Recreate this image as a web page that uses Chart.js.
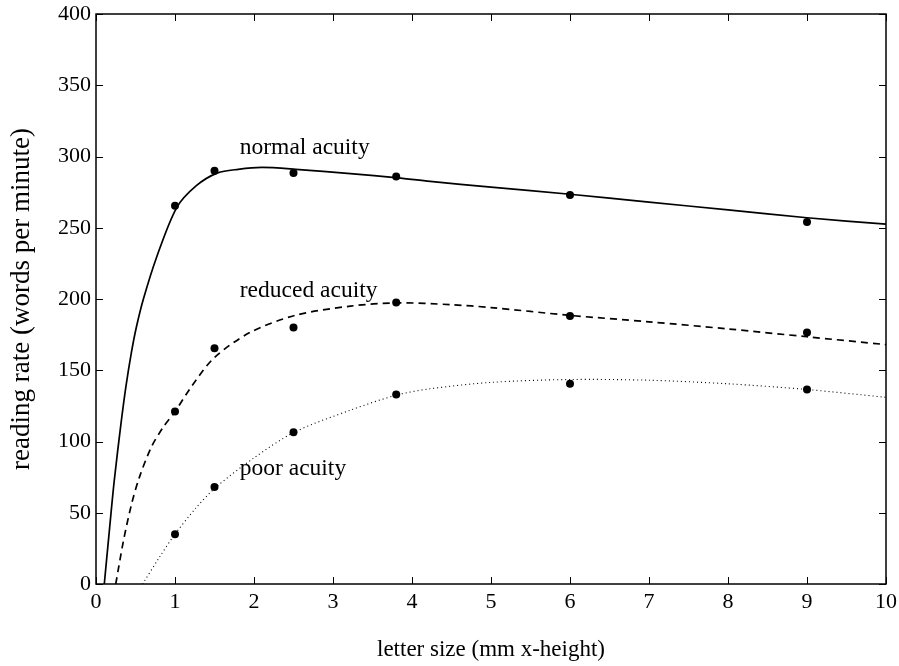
<!DOCTYPE html>
<html>
<head>
<meta charset="utf-8">
<script src="https://cdn.jsdelivr.net/npm/chart.js@4.4.1/dist/chart.umd.min.js"></script>
<style>
  html, body { margin: 0; padding: 0; background: #fff; }
  #wrap { width: 899px; height: 666px; }
</style>
</head>
<body>
<div id="wrap"><canvas id="chart"></canvas></div>
<script>
  // measured points (letter size in mm, words per minute)
  const letterSizes = [1, 1.5, 2.5, 3.8, 6, 9];
  const normalPts = [265.5, 290, 288.5, 286, 273, 254];
  const reducedPts = [121, 165.5, 180, 197.5, 188, 176.5];
  const poorPts = [35, 68, 106.5, 133, 140.5, 136.5];

  // fitted curves
  const normalCurveX = [0.105, 0.17, 0.23, 0.315, 0.38, 0.45, 0.51, 0.6, 0.765, 1.02, 1.27, 1.54, 1.8, 2.1, 2.53, 3.22, 3.82, 4.23, 5, 6, 7, 8, 9, 10];
  const normalCurveY = [0, 38, 72, 112, 139, 163, 180, 200, 229, 264, 279.5, 288.5, 291, 292.3, 291, 288, 285, 282.5, 278.5, 273.5, 268, 262.5, 257, 252.5];
  const reducedCurveX = [0.25, 0.35, 0.45, 0.55, 0.7, 0.85, 1.0, 1.22, 1.5, 1.95, 2.52, 3.22, 3.81, 4.5, 5, 6, 7, 8, 9, 10];
  const reducedCurveY = [0, 31, 56, 75, 96, 110, 121, 139.5, 159, 176.5, 188.5, 195, 197.3, 196, 194, 188.5, 184, 179, 173.5, 168];
  const poorCurveX = [0.59, 0.8, 1.0, 1.26, 1.52, 2.0, 2.51, 3.22, 3.8, 4.23, 5, 6, 7, 8, 9, 10];
  const poorCurveY = [0, 18.5, 35, 53, 68, 88.5, 106.5, 122, 132.5, 137, 141.5, 143.5, 143, 140.5, 136.5, 131];

  const xTicks = [0, 1, 2, 3, 4, 5, 6, 7, 8, 9, 10];
  const yTicks = [0, 50, 100, 150, 200, 250, 300, 350, 400];

  const SERIF = "'Liberation Serif', 'DejaVu Serif', serif";

  const toXY = (xs, ys) => xs.map((x, i) => ({ x, y: ys[i] }));

  const curve = (xs, ys, dash, width) => ({
    data: toXY(xs, ys),
    showLine: true,
    borderColor: "#000",
    borderWidth: width,
    borderDash: dash,
    pointRadius: 0,
    tension: 0.3,
    fill: false
  });

  const dots = (ys) => ({
    data: toXY(letterSizes, ys),
    showLine: false,
    pointRadius: 4,
    pointBackgroundColor: "#000",
    pointBorderWidth: 0
  });

  // box round the plot with inward ticks on all four sides
  const framePlugin = {
    id: "frame",
    afterDraw(chart) {
      const { ctx, chartArea: a, scales } = chart;
      const len = 7;
      ctx.save();
      ctx.strokeStyle = "#000";
      ctx.lineWidth = 1.5;
      ctx.strokeRect(a.left, a.top, a.right - a.left, a.bottom - a.top);
      ctx.lineWidth = 1;
      ctx.beginPath();
      xTicks.forEach((v) => {
        const px = Math.round(scales.x.getPixelForValue(v)) + 0.5;
        ctx.moveTo(px, a.bottom); ctx.lineTo(px, a.bottom - len);
        ctx.moveTo(px, a.top); ctx.lineTo(px, a.top + len);
      });
      yTicks.forEach((v) => {
        const py = Math.round(scales.y.getPixelForValue(v)) + 0.5;
        ctx.moveTo(a.left, py); ctx.lineTo(a.left + len, py);
        ctx.moveTo(a.right, py); ctx.lineTo(a.right - len, py);
      });
      ctx.stroke();

      // curve names
      ctx.fillStyle = "#000";
      ctx.font = "23.5px " + SERIF;
      ctx.textAlign = "left";
      ctx.textBaseline = "middle";
      const names = [["normal acuity", 1.82, 306], ["reduced acuity", 1.82, 206], ["poor acuity", 1.82, 81]];
      names.forEach(([t, x, y]) => {
        ctx.fillText(t, scales.x.getPixelForValue(x), scales.y.getPixelForValue(y));
      });
      ctx.restore();
    }
  };

  new Chart(document.getElementById("chart"), {
    type: "scatter",
    data: {
      datasets: [
        curve(normalCurveX, normalCurveY, [], 1.7),
        curve(reducedCurveX, reducedCurveY, [7, 5], 1.7),
        curve(poorCurveX, poorCurveY, [1, 3], 1.1),
        dots(normalPts),
        dots(reducedPts),
        dots(poorPts)
      ]
    },
    options: {
      responsive: true,
      maintainAspectRatio: false,
      animation: false,
      events: [],
      layout: { padding: { top: 14, right: 13, left: 0, bottom: 0 } },
      plugins: { legend: { display: false }, tooltip: { enabled: false } },
      scales: {
        x: {
          type: "linear",
          min: 0,
          max: 10,
          afterBuildTicks: (s) => { s.ticks = xTicks.map((v) => ({ value: v })); },
          afterFit: (s) => { s.height = 82; s.paddingLeft = 0; s.paddingRight = 0; },
          grid: { display: false, drawTicks: false },
          border: { display: false },
          ticks: { color: "#000", padding: 5, maxRotation: 0, font: { family: SERIF, size: 22 } },
          title: {
            display: true,
            text: "letter size (mm x-height)",
            color: "#000",
            font: { family: SERIF, size: 23, lineHeight: 1 },
            padding: { top: 0, bottom: 5 }
          }
        },
        y: {
          type: "linear",
          min: 0,
          max: 400,
          afterBuildTicks: (s) => { s.ticks = yTicks.map((v) => ({ value: v })); },
          afterFit: (s) => { s.width = 96; s.paddingTop = 0; s.paddingBottom = 0; },
          grid: { display: false, drawTicks: false },
          border: { display: false },
          ticks: { color: "#000", padding: 5, font: { family: SERIF, size: 22 } },
          title: {
            display: true,
            text: "reading rate (words per minute)",
            color: "#000",
            font: { family: SERIF, size: 27, lineHeight: 1 },
            padding: { top: 8, bottom: 0 }
          }
        }
      }
    },
    plugins: [framePlugin]
  });
</script>
</body>
</html>
